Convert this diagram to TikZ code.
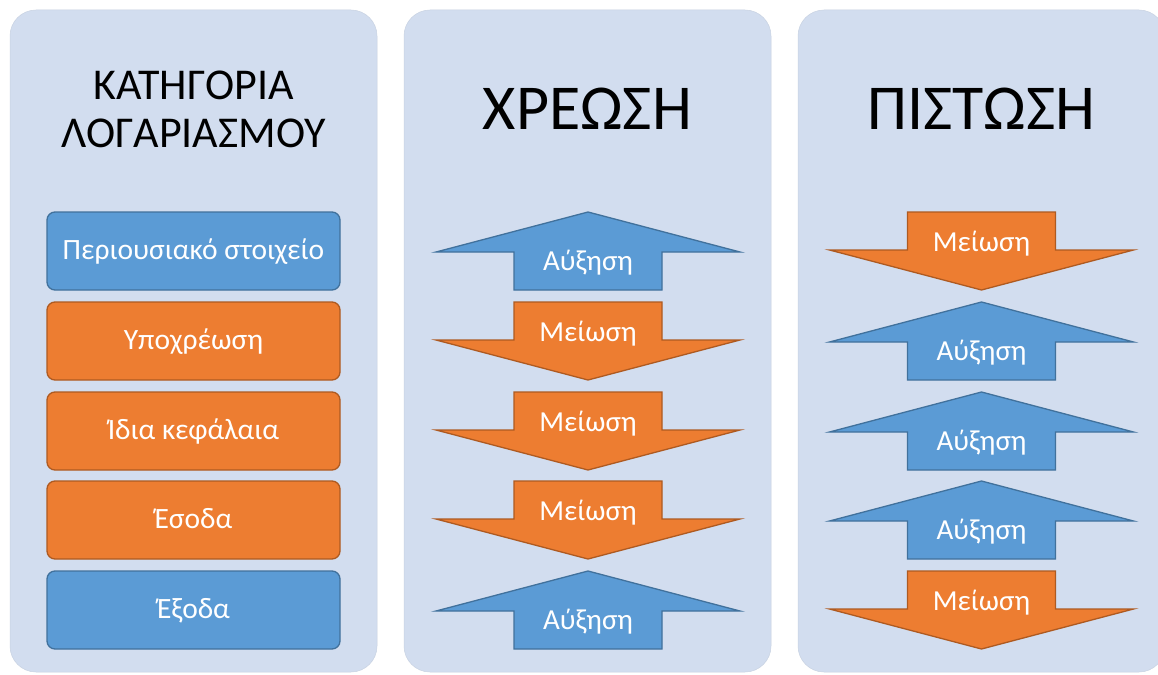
\documentclass[tikz,border=0pt]{standalone}
\usepackage{fontspec}
\setmainfont{Carlito}
\definecolor{panelfill}{HTML}{D2DDEF}
\definecolor{panelline}{HTML}{C8D2E2}
\definecolor{bfill}{HTML}{5B9BD5}
\definecolor{bline}{HTML}{41719C}
\definecolor{ofill}{HTML}{ED7D31}
\definecolor{oline}{HTML}{AE5A21}
\tikzset{
  panelbox/.style={rectangle, rounded corners=26pt, fill=panelfill, draw=panelline, line width=0.5pt,
    minimum width=367pt, minimum height=662pt, inner sep=0pt},
  catbox/.style={rectangle, rounded corners=8pt, line width=1.3pt, minimum width=293pt, minimum height=78pt,
    inner sep=0pt, text=white, font=\fontsize{29.5}{33}\selectfont, text height=22pt, text depth=6pt},
  bluebox/.style={catbox, fill=bfill, draw=bline},
  orangebox/.style={catbox, fill=ofill, draw=oline},
  bluearr/.style={fill=bfill, draw=bline, line width=1.3pt, line join=miter},
  orangearr/.style={fill=ofill, draw=oline, line width=1.3pt, line join=miter},
  arrtext/.style={text=white, inner sep=0pt, anchor=base, font=\fontsize{29}{33}\selectfont},
  smalltitle/.style={inner sep=0pt, anchor=base, font=\fontsize{44}{50}\selectfont},
  bigtitle/.style={inner sep=0pt, anchor=base, font=\fontsize{64}{70}\selectfont},
}
\newcommand\UpArr[3]{%
  \draw[bluearr] (#1,#2) -- (#1+152,#2+40) -- (#1+74,#2+40) -- (#1+74,#2+78)
     -- (#1-74,#2+78) -- (#1-74,#2+40) -- (#1-152,#2+40) -- cycle;
  \node[arrtext] (#3) at (#1,#2+58.5) {Αύξηση};}
\newcommand\DownArr[3]{%
  \draw[orangearr] (#1-74,#2) -- (#1+74,#2) -- (#1+74,#2+38) -- (#1+152,#2+38)
     -- (#1,#2+78) -- (#1-152,#2+38) -- (#1-74,#2+38) -- cycle;
  \node[arrtext] (#3) at (#1,#2+39.5) {Μείωση};}
\begin{document}
\begin{tikzpicture}[x=1pt,y=-1pt]
\useasboundingbox (0,0) rectangle (1158,674);
\fill[white] (0,0) rectangle (1158,674);
% panels
\node[panelbox] (p1) at (193.5,341) {};
\node[panelbox] (p2) at (587.5,341) {};
\node[panelbox] (p3) at (981.5,341) {};
% titles
\node[smalltitle] (t1a) at (193.5,100) {ΚΑΤΗΓΟΡΙΑ};
\node[smalltitle] (t1b) at (193.5,147) {ΛΟΓΑΡΙΑΣΜΟΥ};
\node[bigtitle] (t2) at (587.5,129) {ΧΡΕΩΣΗ};
\node[bigtitle] (t3) at (981.5,129) {ΠΙΣΤΩΣΗ};
% categories
\node[bluebox] (k1) at (193.5,251) {Περιουσιακό στοιχείο};
\node[orangebox] (k2) at (193.5,341) {Υποχρέωση};
\node[orangebox] (k3) at (193.5,431) {Ίδια κεφάλαια};
\node[orangebox] (k4) at (193.5,520) {Έσοδα};
\node[bluebox] (k5) at (193.5,610) {Έξοδα};
% debit
\UpArr{588}{212}{d1}
\DownArr{588}{302}{d2}
\DownArr{588}{392}{d3}
\DownArr{588}{481}{d4}
\UpArr{588}{571}{d5}
% credit
\DownArr{981.5}{212}{c1}
\UpArr{981.5}{302}{c2}
\UpArr{981.5}{392}{c3}
\UpArr{981.5}{481}{c4}
\DownArr{981.5}{571}{c5}
\end{tikzpicture}
\end{document}
